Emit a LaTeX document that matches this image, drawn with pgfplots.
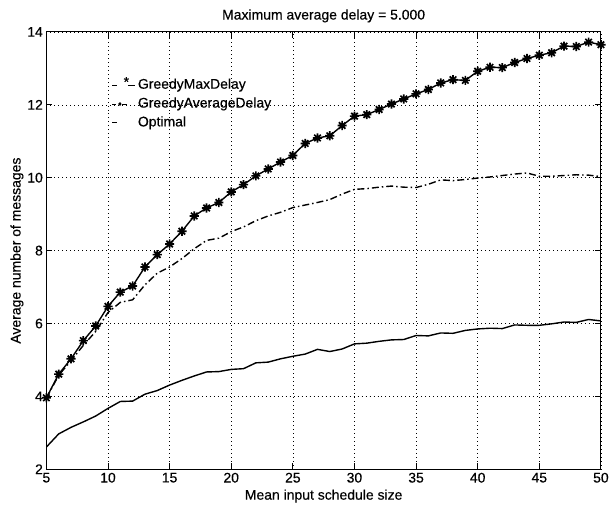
\documentclass[border=0pt]{standalone}
\usepackage{pgfplots}
\pgfplotsset{compat=1.18}
\usepackage{fontspec}
\setmainfont{Liberation Sans}
\newfontfamily\plotfont{Liberation Sans}[FakeBold=0.35]

% matlab style '*' marker: plus and cross together
\pgfdeclareplotmark{mstar}{%
  \pgfpathmoveto{\pgfqpoint{-\pgfplotmarksize}{0pt}}%
  \pgfpathlineto{\pgfqpoint{\pgfplotmarksize}{0pt}}%
  \pgfpathmoveto{\pgfqpoint{0pt}{-\pgfplotmarksize}}%
  \pgfpathlineto{\pgfqpoint{0pt}{\pgfplotmarksize}}%
  \pgfpathmoveto{\pgfqpoint{-.707\pgfplotmarksize}{-.707\pgfplotmarksize}}%
  \pgfpathlineto{\pgfqpoint{.707\pgfplotmarksize}{.707\pgfplotmarksize}}%
  \pgfpathmoveto{\pgfqpoint{-.707\pgfplotmarksize}{.707\pgfplotmarksize}}%
  \pgfpathlineto{\pgfqpoint{.707\pgfplotmarksize}{-.707\pgfplotmarksize}}%
  \pgfusepathqstroke}

\pgfplotstableread{
x   maxd   avgd   opt
5   3.96   3.95   2.61
6   4.61   4.58   2.97
7   5.03   4.98   3.15
8   5.53   5.40   3.30
9   5.93   5.78   3.46
10  6.47   6.30   3.67
11  6.86   6.58   3.86
12  7.03   6.65   3.87
13  7.55   7.06   4.06
14  7.89   7.38   4.16
15  8.18   7.55   4.31
16  8.53   7.78   4.44
17  8.95   8.05   4.56
18  9.17   8.28   4.67
19  9.32   8.34   4.68
20  9.61   8.52   4.74
21  9.81   8.65   4.76
22  10.05  8.82   4.92
23  10.24  8.95   4.94
24  10.43  9.05   5.03
25  10.61  9.18   5.10
26  10.94  9.25   5.16
27  11.09  9.32   5.29
28  11.15  9.40   5.23
29  11.43  9.55   5.30
30  11.69  9.68   5.44
31  11.73  9.70   5.46
32  11.87  9.74   5.51
33  12.02  9.77   5.55
34  12.16  9.74   5.56
35  12.30  9.73   5.67
36  12.42  9.82   5.66
37  12.60  9.94   5.74
38  12.69  9.92   5.73
39  12.67  9.95   5.81
40  12.92  9.99   5.85
41  13.03  10.02  5.87
42  13.02  10.06  5.86
43  13.16  10.10  5.96
44  13.27  10.13  5.95
45  13.36  10.04  5.95
46  13.43  10.04  5.99
47  13.61  10.06  6.04
48  13.60  10.08  6.03
49  13.72  10.07  6.11
50  13.65  10.03  6.07
}\delaydata

\begin{document}
\begin{tikzpicture}
\begin{axis}[
  at={(0,0)}, anchor=south west,
  width=556pt, height=438.5pt, scale only axis,
  xmin=5, xmax=50, ymin=2, ymax=14,
  xtick={5,10,...,50}, ytick={2,4,...,14},
  axis line style={black, line width=1pt},
  tick align=inside, major tick length=6pt,
  tick style={black, line width=0.9pt},
  grid=major,
  major grid style={black, line width=0.6pt, dash pattern=on 0.7pt off 3.3pt},
  /pgf/number format/assume math mode=true,
  tick label style={font=\plotfont\fontsize{14}{16}\selectfont},
  label style={font=\plotfont\fontsize{14}{16}\selectfont},
  title style={font=\plotfont\fontsize{14}{16}\selectfont},
  title={Maximum average delay = 5.000},
  xlabel={Mean input schedule size},
  ylabel={Average number of messages},
  ylabel style={yshift=-3pt},
  reverse legend,
  legend cell align=left,
  legend style={draw=none, fill=none, inner sep=0pt,
    at={(0.117,0.898)}, anchor=north west, row sep=3.9pt,
    font=\plotfont\fontsize{14}{16}\selectfont,
    nodes={inner sep=1pt, text height=10pt, text depth=3pt}},
]
\addplot[black, line width=1.4pt,
  legend image code/.code={\draw[solid, line width=1.1pt] (0pt,0pt) -- (5.5pt,0pt);
    \path[draw=none, fill=none] (0pt,0pt) -- (25pt,0pt);}]
  table[x=x, y=opt] {\delaydata};
\addlegendentry{Optimal}
\addplot[black, line width=1.4pt, dash pattern=on 7pt off 3pt on 1.5pt off 3pt,
  legend image code/.code={\draw[solid, line width=1.1pt] (0pt,0pt) -- (4.5pt,0pt);
    \fill (8pt,0pt) circle (0.9pt);
    \draw[solid, line width=1.1pt] (10.5pt,0pt) -- (15.5pt,0pt);
    \path[draw=none, fill=none] (0pt,0pt) -- (25pt,0pt);}]
  table[x=x, y=avgd] {\delaydata};
\addlegendentry{GreedyAverageDelay}
\addplot[black, line width=1.4pt, mark=mstar, mark size=4.6pt,
  mark options={solid, line width=1.7pt},
  legend image code/.code={\draw[solid, line width=1.1pt] (0pt,0pt) -- (5.5pt,0pt);
    \node[inner sep=0pt, draw=none] at (11pt,2pt) {*};
    \draw[solid, line width=1.1pt] (16pt,0pt) -- (23pt,0pt);}]
  table[x=x, y=maxd] {\delaydata};
\addlegendentry{GreedyMaxDelay}
\end{axis}
\path (-46.5pt,-36.5pt) rectangle (565.5pt,470.5pt);
\end{tikzpicture}
\end{document}
